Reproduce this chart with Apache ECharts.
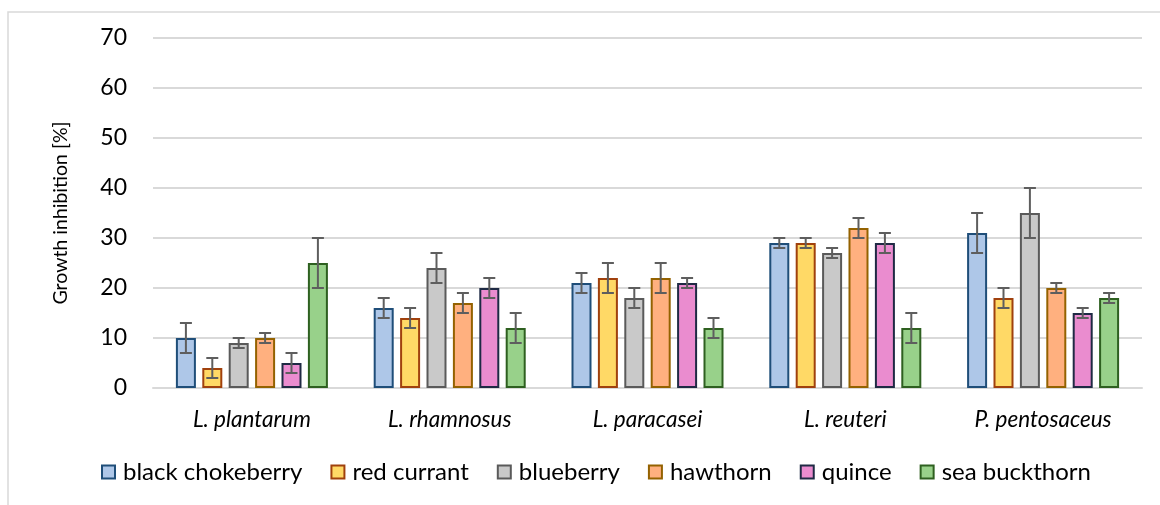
<!DOCTYPE html>
<html><head><meta charset="utf-8">
<script src="https://cdn.jsdelivr.net/npm/echarts@6/dist/echarts.min.js"></script>
<style>html,body{margin:0;padding:0;background:#fff}#c{width:1160px;height:505px}</style>
</head><body><div id="c"></div>
<script>
const categories = ['L. plantarum', 'L. rhamnosus', 'L. paracasei', 'L. reuteri', 'P. pentosaceus'];
const seriesNames = ['black chokeberry', 'red currant', 'blueberry', 'hawthorn', 'quince', 'sea buckthorn'];
const blackChokeberry = [10, 16, 21, 29, 31];
const blackChokeberryErr = [3, 2, 2, 1, 4];
const redCurrant = [4, 14, 22, 29, 18];
const redCurrantErr = [2, 2, 3, 1, 2];
const blueberry = [9, 24, 18, 27, 35];
const blueberryErr = [1, 3, 2, 1, 5];
const hawthorn = [10, 17, 22, 32, 20];
const hawthornErr = [1, 2, 3, 2, 1];
const quince = [5, 20, 21, 29, 15];
const quinceErr = [2, 2, 1, 2, 1];
const seaBuckthorn = [25, 12, 12, 12, 18];
const seaBuckthornErr = [5, 3, 2, 3, 1];
const yTickLabels = ['0', '10', '20', '30', '40', '50', '60', '70'];

const values = [blackChokeberry, redCurrant, blueberry, hawthorn, quince, seaBuckthorn];
const errors = [blackChokeberryErr, redCurrantErr, blueberryErr, hawthornErr, quinceErr, seaBuckthornErr];
const fills = ['#aec7e8', '#ffd966', '#c9c9c9', '#ffb07f', '#ea8ccf', '#98d18a'];
const borders = ['#1f4e79', '#a0410d', '#5a5a5a', '#946200', '#1f2a44', '#2e6020'];

const FONT = 'Lato';
const BAR_W = 20, BAR_GAP = 0.32;
const n = seriesNames.length;
const total = n * BAR_W + (n - 1) * BAR_W * BAR_GAP;

const series = [];
values.forEach((v, i) => {
  series.push({
    name: seriesNames[i], type: 'bar', data: v,
    barWidth: BAR_W, barGap: (BAR_GAP * 100) + '%',
    itemStyle: { color: fills[i], borderColor: borders[i], borderWidth: 2 },
    emphasis: { disabled: true }, z: 2
  });
});
values.forEach((v, i) => {
  const off = -total / 2 + BAR_W / 2 + i * BAR_W * (1 + BAR_GAP);
  series.push({
    type: 'custom', name: seriesNames[i] + ' err', z: 5, silent: true,
    data: v.map((val, k) => [k, val - errors[i][k], val + errors[i][k]]),
    encode: { x: 0, y: [1, 2] },
    renderItem: (params, api) => {
      const ci = api.value(0);
      const lo = api.coord([ci, api.value(1)]);
      const hi = api.coord([ci, api.value(2)]);
      const x = lo[0] + off;
      const st = { stroke: '#5e5e5e', lineWidth: 2 };
      return { type: 'group', children: [
        { type: 'line', shape: { x1: x, y1: hi[1], x2: x, y2: lo[1] }, style: st },
        { type: 'line', shape: { x1: x - 6, y1: hi[1], x2: x + 6, y2: hi[1] }, style: st },
        { type: 'line', shape: { x1: x - 6, y1: lo[1], x2: x + 6, y2: lo[1] }, style: st }
      ]};
    }
  });
});

const chart = echarts.init(document.getElementById('c'));
chart.setOption({
  animation: false,
  textStyle: { fontFamily: FONT },
  graphic: [{ type: 'rect', shape: { x: 8, y: 12, width: 1200, height: 600 }, style: { fill: 'none', stroke: '#d9d9d9', lineWidth: 1.5 }, z: -1 }],
  grid: { left: 153, right: 18, top: 38, bottom: 117, containLabel: false },
  legend: {
    data: seriesNames, left: 96, top: 455, icon: 'rect', itemWidth: 13, itemHeight: 13, itemGap: 28,
    textStyle: { fontFamily: FONT, fontSize: 24, color: '#000', padding: [0, 0, 0, 3] }
  },
  xAxis: {
    type: 'category', data: categories,
    axisLine: { lineStyle: { color: '#d9d9d9', width: 2 } },
    axisTick: { show: false },
    axisLabel: { fontFamily: FONT, fontStyle: 'italic', fontSize: 22.5, color: '#000', margin: 20 }
  },
  yAxis: {
    type: 'value', min: 0, max: 70, interval: 10,
    name: 'Growth inhibition [%]', nameLocation: 'middle', nameGap: 82,
    nameTextStyle: { fontFamily: FONT, fontSize: 19.5, color: '#000' },
    axisLine: { show: false }, axisTick: { show: false },
    axisLabel: { fontFamily: FONT, fontSize: 23, color: '#000', margin: 26,
      formatter: (v) => yTickLabels[Math.round(v / 10)] },
    splitLine: { lineStyle: { color: '#d9d9d9', width: 2 } }
  },
  series
});
</script></body></html>
